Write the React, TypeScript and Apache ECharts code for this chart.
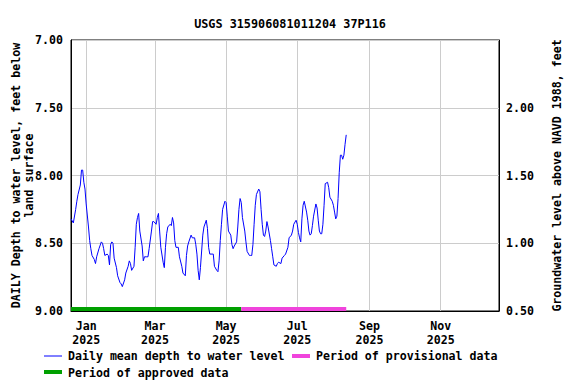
import React, { useEffect, useRef } from "react";
import * as echarts from "echarts";

const TITLE = "USGS 315906081011204 37P116";
const LEFT_AXIS_NAME = "DAILY Depth to water level, feet below\nland surface";
const RIGHT_AXIS_NAME = "Groundwater level above NAVD 1988, feet";

// day offsets from 2025-01-01 and daily mean depth (feet below land surface)
const dayOffsets = [
  -13, -11, -9, -8, -7, -5, -4, -3, -2, -1, 0, 2, 3, 4, 5, 7, 8, 9, 11, 13, 14, 15, 16, 18, 19, 20,
  21, 22, 23, 24, 26, 27, 29, 30, 31, 33, 34, 36, 37, 38, 39, 41, 42, 43, 44, 45, 46, 48, 49, 50,
  52, 53, 54, 56, 57, 58, 60, 61, 62, 63, 64, 66, 67, 68, 69, 70, 72, 73, 74, 75, 76, 77, 79, 80,
  82, 83, 85, 86, 87, 88, 90, 91, 93, 94, 95, 96, 97, 98, 100, 101, 103, 104, 105, 106, 108, 109,
  110, 112, 113, 114, 115, 116, 117, 119, 120, 121, 122, 124, 125, 126, 127, 129, 130, 131, 132,
  133, 134, 136, 137, 138, 140, 141, 142, 143, 144, 145, 146, 148, 149, 150, 151, 152, 153, 154,
  155, 156, 158, 159, 160, 161, 163, 164, 165, 167, 168, 170, 171, 173, 174, 176, 177, 178, 180,
  181, 182, 183, 184, 185, 186, 187, 189, 190, 191, 192, 193, 194, 195, 197, 198, 199, 200, 201,
  202, 203, 204, 205, 207, 208, 209, 211, 212, 213, 214, 215, 216, 217, 218, 219, 220, 221, 222, 223,
];
const depths = [
  8.32, 8.35, 8.25, 8.19, 8.14, 8.07, 7.96, 7.96, 8.05, 8.10, 8.21, 8.38, 8.48, 8.54, 8.59, 8.62,
  8.65, 8.60, 8.54, 8.49, 8.50, 8.54, 8.59, 8.58, 8.59, 8.66, 8.51, 8.49, 8.50, 8.61, 8.68, 8.74,
  8.79, 8.80, 8.82, 8.77, 8.72, 8.67, 8.63, 8.65, 8.70, 8.67, 8.53, 8.36, 8.31, 8.28, 8.41, 8.52,
  8.63, 8.60, 8.60, 8.60, 8.54, 8.41, 8.34, 8.34, 8.36, 8.31, 8.28, 8.41, 8.53, 8.64, 8.68, 8.53,
  8.43, 8.38, 8.36, 8.37, 8.31, 8.35, 8.48, 8.53, 8.53, 8.60, 8.67, 8.72, 8.74, 8.59, 8.52, 8.49,
  8.44, 8.46, 8.46, 8.51, 8.58, 8.70, 8.77, 8.68, 8.44, 8.38, 8.33, 8.39, 8.53, 8.58, 8.58, 8.58,
  8.67, 8.70, 8.71, 8.63, 8.48, 8.36, 8.25, 8.19, 8.20, 8.30, 8.41, 8.44, 8.51, 8.54, 8.52, 8.49,
  8.38, 8.25, 8.17, 8.20, 8.31, 8.41, 8.49, 8.56, 8.59, 8.59, 8.59, 8.51, 8.36, 8.22, 8.14, 8.10,
  8.12, 8.25, 8.36, 8.44, 8.45, 8.41, 8.34, 8.38, 8.48, 8.54, 8.60, 8.66, 8.67, 8.65, 8.64, 8.65,
  8.61, 8.59, 8.58, 8.53, 8.46, 8.44, 8.41, 8.36, 8.33, 8.36, 8.42, 8.46, 8.49, 8.32, 8.22, 8.19,
  8.27, 8.33, 8.41, 8.44, 8.43, 8.37, 8.30, 8.21, 8.24, 8.33, 8.41, 8.43, 8.43, 8.36, 8.22, 8.06,
  8.05, 8.09, 8.16, 8.19, 8.22, 8.27, 8.32, 8.30, 8.17, 7.98, 7.85, 7.85, 7.88, 7.85, 7.77, 7.70,
];

// approval periods (day offsets from 2025-01-01)
const approvedPeriod = [-13, 133];
const provisionalPeriod = [133, 223];
const periodBarDepth = 8.985;

// axis range and ticks
const xRangeDays = [-13, 354];
const monthTicks = [0, 2, 4, 6, 8, 10]; // month index in 2025
const monthNames = ["Jan", "Feb", "Mar", "Apr", "May", "Jun", "Jul", "Aug", "Sep", "Oct", "Nov", "Dec"];
const depthRange = [7, 9];
const elevationRange = [0.5, 2.5];
const elevationLabels = [0.5, 1.0, 1.5, 2.0];

const FONT = "'DejaVu Sans Mono', monospace";
const DAY = 86400000;
const BASE = Date.UTC(2025, 0, 1);
const toTime = (d: number) => BASE + d * DAY;

export default function App() {
  const ref = useRef<HTMLDivElement>(null);
  useEffect(() => {
    if (!ref.current) return;
    const chart = echarts.init(ref.current, undefined, { renderer: "svg" });
    const lineData = dayOffsets.map((d, i) => [toTime(d), depths[i]]);
    const tickTimes = monthTicks.map((m) => Date.UTC(2025, m, 1));
    const textStyle = { fontFamily: FONT, fontWeight: "bold" as const, fontSize: 11.6, color: "#000" };

    chart.setOption({
      animation: false,
      backgroundColor: "#fff",
      title: {
        text: TITLE,
        left: 285,
        textAlign: "center",
        top: 13,
        textStyle: { fontFamily: FONT, fontWeight: "bold", fontSize: 11.8, color: "#000" },
      },
      grid: {
        left: 71,
        right: 77,
        top: 40,
        bottom: 73,
        show: true,
        borderColor: "#000",
        borderWidth: 1,
        backgroundColor: "transparent",
        containLabel: false,
        outerBoundsMode: "none",
      },
      xAxis: {
        type: "value",
        min: toTime(xRangeDays[0]),
        max: toTime(xRangeDays[1]),
        axisLine: { show: true, lineStyle: { color: "#000", width: 1 } },
        axisTick: { show: false, customValues: tickTimes },
        splitLine: { show: true, lineStyle: { color: "#cccccc", width: 1 } },
        axisLabel: {
          customValues: tickTimes,
          formatter: (v: number) => {
            const dt = new Date(v);
            return monthNames[dt.getUTCMonth()] + "\n" + dt.getUTCFullYear();
          },
          ...textStyle,
          lineHeight: 14,
          margin: 8,
          showMinLabel: true,
          showMaxLabel: true,
          hideOverlap: false,
        },
      },
      yAxis: [
        {
          type: "value",
          inverse: true,
          min: depthRange[0],
          max: depthRange[1],
          interval: 0.5,
          position: "left",
          name: LEFT_AXIS_NAME,
          nameLocation: "middle",
          nameRotate: 90,
          nameGap: 36,
          nameMoveOverlap: false,
          nameTextStyle: { ...textStyle, lineHeight: 13 },
          axisLine: { show: true, lineStyle: { color: "#000", width: 1 } },
          axisTick: { show: false },
          splitLine: { show: true, lineStyle: { color: "#cccccc", width: 1 } },
          axisLabel: { ...textStyle, margin: 8, formatter: (v: number) => v.toFixed(2) },
        },
        {
          type: "value",
          min: elevationRange[0],
          max: elevationRange[1],
          interval: 0.5,
          position: "right",
          name: RIGHT_AXIS_NAME,
          nameLocation: "middle",
          nameRotate: 90,
          nameGap: 52,
          nameTextStyle: textStyle,
          axisLine: { show: true, lineStyle: { color: "#000", width: 1 } },
          axisTick: { show: false },
          splitLine: { show: false },
          axisLabel: {
            ...textStyle,
            margin: 7,
            formatter: (v: number) =>
              elevationLabels.some((e) => Math.abs(e - v) < 1e-6) ? v.toFixed(2) : "",
          },
        },
      ],
      series: [
        {
          name: "Period of approved data",
          type: "line",
          yAxisIndex: 0,
          data: approvedPeriod.map((d) => [toTime(d), periodBarDepth]),
          showSymbol: false,
          lineStyle: { color: "#00a000", width: 4 },
          silent: true,
          z: 3,
        },
        {
          name: "Period of provisional data",
          type: "line",
          yAxisIndex: 0,
          data: provisionalPeriod.map((d) => [toTime(d), periodBarDepth]),
          showSymbol: false,
          lineStyle: { color: "#f044dc", width: 4 },
          silent: true,
          z: 3,
        },
        {
          name: "Daily mean depth to water level",
          type: "line",
          yAxisIndex: 0,
          data: lineData,
          showSymbol: false,
          lineStyle: { color: "#0000ff", width: 1 },
          z: 4,
        },
      ],
      graphic: [
        { type: "line", shape: { x1: 44, y1: 356, x2: 62, y2: 356 }, style: { stroke: "#0000ff", lineWidth: 1 } },
        {
          type: "text",
          x: 68,
          y: 356,
          style: { text: "Daily mean depth to water level", font: `bold 11.6px ${FONT}`, fill: "#000", verticalAlign: "middle" },
        },
        { type: "rect", shape: { x: 292, y: 354, width: 18, height: 4 }, style: { fill: "#f044dc" } },
        {
          type: "text",
          x: 316,
          y: 356,
          style: { text: "Period of provisional data", font: `bold 11.6px ${FONT}`, fill: "#000", verticalAlign: "middle" },
        },
        { type: "rect", shape: { x: 44, y: 370, width: 18, height: 4 }, style: { fill: "#00a000" } },
        {
          type: "text",
          x: 68,
          y: 372.5,
          style: { text: "Period of approved data", font: `bold 11.6px ${FONT}`, fill: "#000", verticalAlign: "middle" },
        },
      ],
    });
    return () => chart.dispose();
  }, []);
  return <div ref={ref} style={{ width: 576, height: 384, position: "absolute", left: 0, top: 0 }} />;
}
